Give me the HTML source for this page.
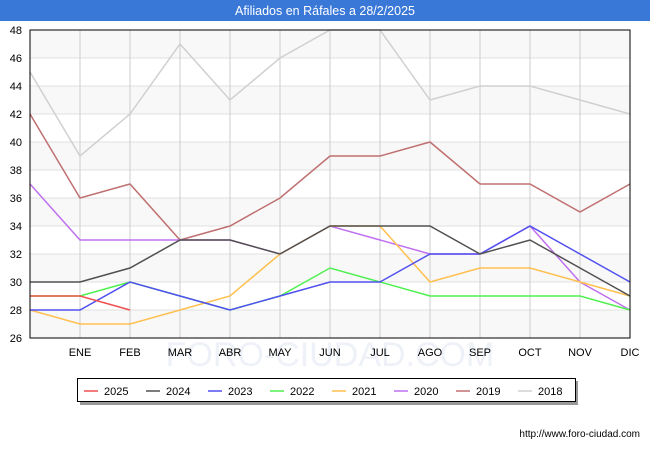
<!DOCTYPE html>
<html><head><meta charset="utf-8"><style>
body{margin:0;background:#fff;font-family:"Liberation Sans",sans-serif}
</style></head><body>
<svg width="650" height="450" xmlns="http://www.w3.org/2000/svg" font-family="Liberation Sans, sans-serif">
<rect x="0" y="0" width="650" height="21" fill="#3a78d8"/>
<text x="325" y="15" text-anchor="middle" font-size="12.5" fill="#fff">Afiliados en Ráfales a 28/2/2025</text>
<g id="plot"></g>
<g id="legend"></g>
<text x="640" y="437" text-anchor="end" font-size="10" fill="#000">http://www.foro-ciudad.com</text>
</svg>
<script>
const months=["","ENE","FEB","MAR","ABR","MAY","JUN","JUL","AGO","SEP","OCT","NOV","DIC"];
const yTicks=[26,28,30,32,34,36,38,40,42,44,46,48];
const seriesNames=["2018","2019","2020","2021","2022","2023","2024","2025"];
const colors=["#d0d0d0","#c07070","#c070f0","#ffc050","#50f050","#5050f0","#505050","#f05050"];
const s2018=[45,39,42,47,43,46,48,48,43,44,44,43,42];
const s2019=[42,36,37,33,34,36,39,39,40,37,37,35,37];
const s2020=[37,33,33,33,33,32,34,33,32,32,34,30,28];
const s2021=[28,27,27,28,29,32,34,34,30,31,31,30,29];
const s2022=[29,29,30,29,28,29,31,30,29,29,29,29,28];
const s2023=[28,28,30,29,28,29,30,30,32,32,34,32,30];
const s2024=[30,30,31,33,33,32,34,34,34,32,33,31,29];
const s2025=[29,29,28];
const all=[s2018,s2019,s2020,s2021,s2022,s2023,s2024,s2025];
const NS="http://www.w3.org/2000/svg";
const X0=30,X1=630,Y0=338,Y1=30,YMIN=26,YMAX=48;
const x=i=>X0+i*(X1-X0)/12;
const y=v=>Y0-(v-YMIN)*(Y0-Y1)/(YMAX-YMIN);
const plot=document.getElementById('plot');
function mk(t,a,p){const e=document.createElementNS(NS,t);for(const k in a)e.setAttribute(k,a[k]);(p||plot).appendChild(e);return e;}
for(let i=0;i<yTicks.length-1;i++){
 const b=mk('rect',{x:X0,y:y(yTicks[i+1]),width:X1-X0,height:y(yTicks[i])-y(yTicks[i+1]),fill:i%2==0?'#f8f8f8':'#ffffff'});
 
 
}
const wm=mk('text',{x:330,y:366,'text-anchor':'middle','font-size':'34',fill:'#eef1f8'});
wm.textContent='FORO-CIUDAD.COM';


yTicks.forEach(v=>{
 const l=mk('line',{x1:X0,x2:X1,y1:y(v),y2:y(v),stroke:'#e0e0e0'});
 
 
 const t=mk('text',{x:X0-8,y:y(v)+4,'text-anchor':'end','font-size':'11',fill:'#000'});
 t.textContent=v;
 
 
});
months.forEach((m,i)=>{
 const l=mk('line',{x1:x(i),x2:x(i),y1:Y1,y2:Y0,stroke:'#cccccc'});
 
 
 if(m){const t=mk('text',{x:x(i),y:Y0+18,'text-anchor':'middle','font-size':'11',fill:'#000'});
 t.textContent=m;
 
 }
});
all.forEach((s,k)=>{
 const p=mk('polyline',{points:s.map((v,i)=>x(i)+','+y(v)).join(' '),fill:'none',stroke:colors[k],'stroke-width':'1.5'});
 
 
});
const fr=mk('rect',{x:X0,y:Y1,width:X1-X0,height:Y0-Y1,fill:'none',stroke:'#000'});


const lg=document.getElementById('legend');
const sh=mk('rect',{x:80,y:381,width:498,height:24,fill:'#999'},lg);


const box=mk('rect',{x:77.5,y:378.5,width:498,height:23,fill:'#fff',stroke:'#000'},lg);


const order=[7,6,5,4,3,2,1,0];
order.forEach((k,j)=>{
 const lx=84+j*62;
 const g=mk('g',{},lg);
 
 
 mk('line',{x1:lx,x2:lx+14,y1:391,y2:391,stroke:colors[k],'stroke-width':'1.5'},g);
 const t=mk('text',{x:lx+20,y:395,'font-size':'11',fill:'#000'},g);
 t.textContent=seriesNames[k];
});
</script>
</body></html>
